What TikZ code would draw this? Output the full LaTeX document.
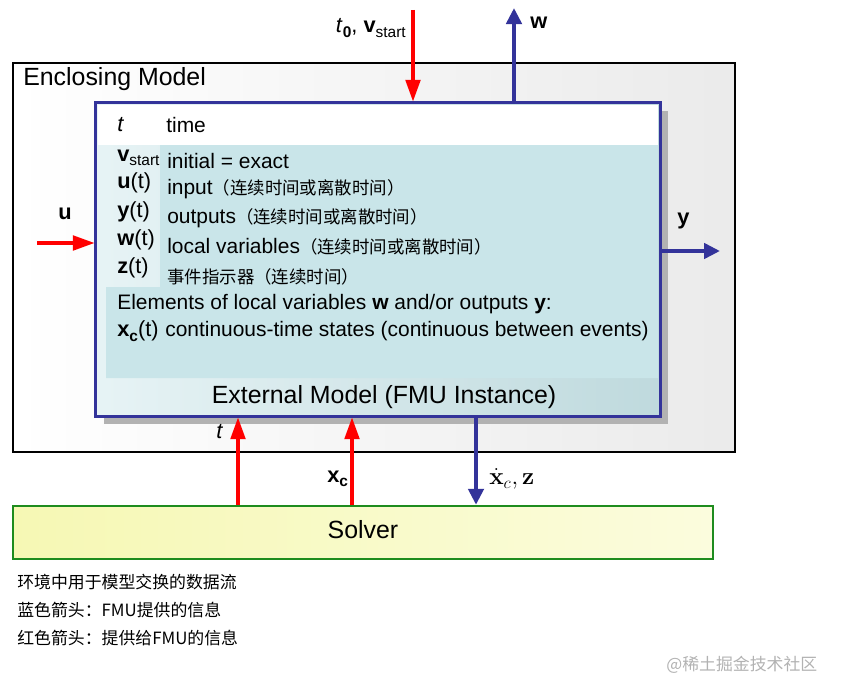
\documentclass[tikz,border=0pt]{standalone}
\usepackage[no-math]{fontspec}
\setmainfont{Liberation Sans}
\newfontfamily\cjk{Noto Sans CJK SC}
\usepackage{amsmath}
\usetikzlibrary{arrows.meta,fit}

\definecolor{fmublue}{HTML}{33339A}
\definecolor{flowred}{HTML}{FF0000}
\definecolor{solvergreen}{HTML}{1E8C1E}
\definecolor{fmupanel}{HTML}{C9E5E9}
\definecolor{solverfill}{HTML}{F6F8B4}

\newcommand\lowidx[1]{\raisebox{-0.4ex}{\fontsize{11pt}{11pt}\selectfont #1}}
\newcommand\zh[1]{{\cjk\fontsize{12.4pt}{14pt}\selectfont #1}}

\tikzset{
	redflow/.style={draw=flowred, line width=0.1cm, -{Triangle[length=0.55cm,width=0.36cm]}},
	blueflow/.style={draw=fmublue, line width=0.1cm, -{Triangle[length=0.4cm,width=0.38cm]}},
	body/.style={font=\fontsize{14.9pt}{17pt}\selectfont, inner sep=0pt, anchor=west},
	big/.style={font=\fontsize{17.7pt}{20pt}\selectfont, inner sep=0pt},
	sym/.style={font=\fontsize{15.5pt}{18pt}\selectfont, inner sep=0pt, anchor=west},
	legend/.style={font=\cjk\fontsize{12pt}{14pt}\selectfont, inner sep=0pt, anchor=west},
}

\begin{document}
\begin{tikzpicture}[x=0.025cm, y=-0.025cm]
	\useasboundingbox (0,0) rectangle (841,696);

	% enclosing model
	\node[fit={(13,63) (735,452)}, inner sep=0pt, draw=black, line width=0.06cm, left color=white, right color=black!8] (E) {};
	\node[big, anchor=west] (Et) at (23,79) {Enclosing Model};

	% external model (FMU)
	\fill[black!30] (104,111) rectangle (668,424);
	\node[fit={(96,103) (660,416)}, inner sep=0pt, draw=fmublue, line width=0.06cm, left color=fmupanel!45, right color=fmupanel!95!black] (F) {};
	\fill[white] (98,105) rectangle (658,145);
	\fill[fmupanel] (160,145) -- (658,145) -- (658,378) -- (106,378) -- (106,287) -- (160,287) -- cycle;
	\draw[fmublue, line width=0.06cm] (F.north west) rectangle (F.south east);

	\node[sym] (T) at (117,125) {\textit{t}};
	\node[body] (Tt) at (166,125) {time};
	\node[sym] (V) at (117,158) {\textbf{v}\lowidx{start}};
	\node[body] (Vt) at (167,161) {initial = exact};
	\node[sym] (U) at (117,183) {\textbf{u}(t)};
	\node[body] (Ut) at (167,189) {input\zh{（连续时间或离散时间）}};
	\node[sym] (Y) at (117,212) {\textbf{y}(t)};
	\node[body] (Yt) at (167,218) {outputs\zh{（连续时间或离散时间）}};
	\node[sym] (W) at (117,240) {\textbf{w}(t)};
	\node[body] (Wt) at (167,247) {local variables\zh{（连续时间或离散时间）}};
	\node[sym] (Z) at (117,268) {\textbf{z}(t)};
	\node[body] (Zt) at (167,277) {\zh{事件指示器（连续时间）}};
	\node[body] (El) at (117,304) {Elements of local variables \textbf{w} and/or outputs \textbf{y}:};
	\node[sym] (X) at (117,331) {\textbf{x}\lowidx{\bfseries c}(t)};
	\node[body] (Xt) at (165,331) {continuous-time states (continuous between events)};
	\node[big] (Ft) at (384,397) {External Model (FMU Instance)};

	% solver
	\node[fit={(13,506) (713,559)}, inner sep=0pt, draw=solvergreen, line width=0.06cm, left color=solverfill, right color=solverfill!45] (S) {};
	\node[big] (St) at (363,530) {Solver};

	% flows in and out
	\coordinate (t0) at (413,10);
	\draw[redflow] (t0) -- (t0 |- F.north);
	\node[sym, anchor=east] (t0l) at (406,28) {\textit{t}\lowidx{\bfseries 0}, \textbf{v}\lowidx{start}};

	\coordinate (w) at (514,8);
	\draw[blueflow] (w |- F.north) -- (w);
	\node[sym] (wl) at (530,23) {\textbf{w}};

	\coordinate (u) at (37,243);
	\draw[redflow] (u) -- (u -| F.west);
	\node[sym] (ul) at (58,214) {\textbf{u}};

	\coordinate (y) at (720,251);
	\draw[blueflow] (y -| F.east) -- (y);
	\node[sym] (yl) at (677,221) {\textbf{y}};

	\coordinate (t) at (238,470);
	\draw[redflow] (t |- S.north) -- (t |- F.south);
	\node[sym] (tl) at (216,432) {\textit{t}};

	\coordinate (xc) at (352,470);
	\draw[redflow] (xc |- S.north) -- (xc |- F.south);
	\node[sym] (xcl) at (327,479) {\textbf{x}\lowidx{\bfseries c}};

	\coordinate (xd) at (476,470);
	\draw[blueflow] (xd |- F.south) -- (xd |- S.north);
	\node[sym, font=\fontsize{18pt}{20pt}\selectfont] (xdl) at (489,479) {$\dot{\mathbf{x}}_{c},\mathbf{z}$};

	% legend
	\node[legend] (L1) at (17,582) {环境中用于模型交换的数据流};
	\node[legend] (L2) at (17,610) {蓝色箭头：FMU提供的信息};
	\node[legend] (L3) at (17,638) {红色箭头：提供给FMU的信息};
	\node[legend, text=black!30] (M) at (666,665) {@稀土掘金技术社区};
\end{tikzpicture}
\end{document}
